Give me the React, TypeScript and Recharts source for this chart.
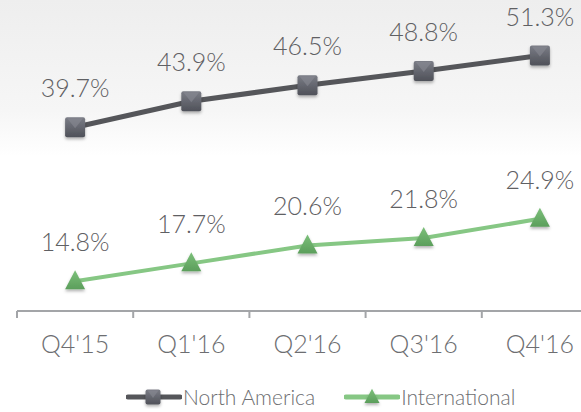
import React from "react";
import { ComposedChart, Line, XAxis, YAxis, LabelList } from "recharts";

const quarters = ["Q4'15", "Q1'16", "Q2'16", "Q3'16", "Q4'16"];
const northAmerica = [39.7, 43.9, 46.5, 48.8, 51.3];
const international = [14.8, 17.7, 20.6, 21.8, 24.9];

const data = quarters.map((q, i) => ({
  quarter: q,
  na: northAmerica[i],
  intl: international[i],
}));

const W = 600;
const H = 412;
const margin = { top: 11, right: 2, left: 17, bottom: 0 };
const band = (W - margin.left - margin.right) / quarters.length;
const font = "Lato, 'Open Sans', sans-serif";

const Square = ({ cx, cy, s = 20 }: any) => (
  <g filter="url(#shadow)">
    <rect x={cx - s / 2} y={cy - s / 2} width={s} height={s} rx={2} fill="url(#gradNA)" />
    <path
      d={`M${cx - s / 2 + 2},${cy - s / 2 + 1} L${cx + s / 2 - 2},${cy - s / 2 + 1} L${cx},${cy + 1} Z`}
      fill="#8a8c95"
      opacity={0.55}
    />
  </g>
);

const Triangle = ({ cx, cy, s = 20 }: any) => (
  <g filter="url(#shadow)">
    <path
      d={`M${cx},${cy - s * 0.55} L${cx + s / 2},${cy + s * 0.4} L${cx - s / 2},${cy + s * 0.4} Z`}
      fill="url(#gradIntl)"
    />
  </g>
);

const QuarterTick = ({ x, y, payload }: any) => (
  <g>
    <line x1={x - band / 2} y1={y} x2={x - band / 2} y2={y + 7} stroke="#a3a5a8" strokeWidth={2} />
    <text x={x} y={y + 42} textAnchor="middle" fill="#6d6e71" fontSize={25} fontWeight={300} fontFamily={font}>
      {payload.value}
    </text>
  </g>
);

const pct = (v: any) => `${Number(v).toFixed(1)}%`;

export default function App() {
  return (
    <div
      style={{
        position: "absolute",
        top: 0,
        left: 0,
        width: 581,
        height: 412,
        overflow: "hidden",
        background: "linear-gradient(to bottom, #eeeeee 0px, #f6f6f6 110px, #fdfdfd 148px, #ffffff 156px)",
      }}
    >
      <svg width={0} height={0} style={{ position: "absolute" }}>
        <defs>
          <linearGradient id="gradNA" x1="0" y1="0" x2="0" y2="1">
            <stop offset="0%" stopColor="#7b7d86" />
            <stop offset="100%" stopColor="#4f5159" />
          </linearGradient>
          <linearGradient id="gradIntl" x1="0" y1="0" x2="0" y2="1">
            <stop offset="0%" stopColor="#7cc07a" />
            <stop offset="100%" stopColor="#5b9e5b" />
          </linearGradient>
          <filter id="shadow" x="-50%" y="-50%" width="200%" height="200%">
            <feDropShadow dx="0" dy="2" stdDeviation="1.8" floodColor="#000" floodOpacity="0.3" />
          </filter>
        </defs>
      </svg>
      <ComposedChart width={W} height={H} data={data} margin={margin}>
        <XAxis
          dataKey="quarter"
          axisLine={{ stroke: "#a3a5a8", strokeWidth: 2 }}
          tickLine={false}
          tickSize={0}
          tickMargin={0}
          tick={<QuarterTick />}
          interval={0}
          height={101}
          padding={{ left: band / 2, right: band / 2 }}
        />
        <YAxis hide domain={[10, 58.5]} />
        <Line
          dataKey="na"
          stroke="#55565a"
          strokeWidth={5}
          dot={(p: any) => <Square key={`na-${p.index}`} cx={p.cx} cy={p.cy} />}
          activeDot={false}
          isAnimationActive={false}
        >
          <LabelList
            dataKey="na"
            position="top"
            offset={30}
            formatter={pct}
            fill="#5f6063"
            fontSize={25}
            fontWeight={300}
            fontFamily={font}
          />
        </Line>
        <Line
          dataKey="intl"
          stroke="#86c784"
          strokeWidth={4}
          dot={(p: any) => <Triangle key={`intl-${p.index}`} cx={p.cx} cy={p.cy} />}
          activeDot={false}
          isAnimationActive={false}
        >
          <LabelList
            dataKey="intl"
            position="top"
            offset={30}
            formatter={pct}
            fill="#5f6063"
            fontSize={25}
            fontWeight={300}
            fontFamily={font}
          />
        </Line>
      </ComposedChart>
      <div
        style={{
          position: "absolute",
          top: 384,
          left: 126,
          display: "flex",
          alignItems: "center",
          fontFamily: font,
          fontWeight: 300,
          fontSize: 21,
          color: "#6d6e71",
        }}
      >
        <svg width={56} height={24}>
          <line x1={2} y1={12} x2={54} y2={12} stroke="#55565a" strokeWidth={5} strokeLinecap="round" />
          <Square cx={27} cy={12} s={15} />
        </svg>
        <span style={{ marginLeft: 1 }}>North America</span>
        <svg width={56} height={24} style={{ marginLeft: 29 }}>
          <line x1={2} y1={12} x2={54} y2={12} stroke="#86c784" strokeWidth={5} strokeLinecap="round" />
          <Triangle cx={28} cy={12} s={15} />
        </svg>
        <span style={{ marginLeft: 1 }}>International</span>
      </div>
    </div>
  );
}
